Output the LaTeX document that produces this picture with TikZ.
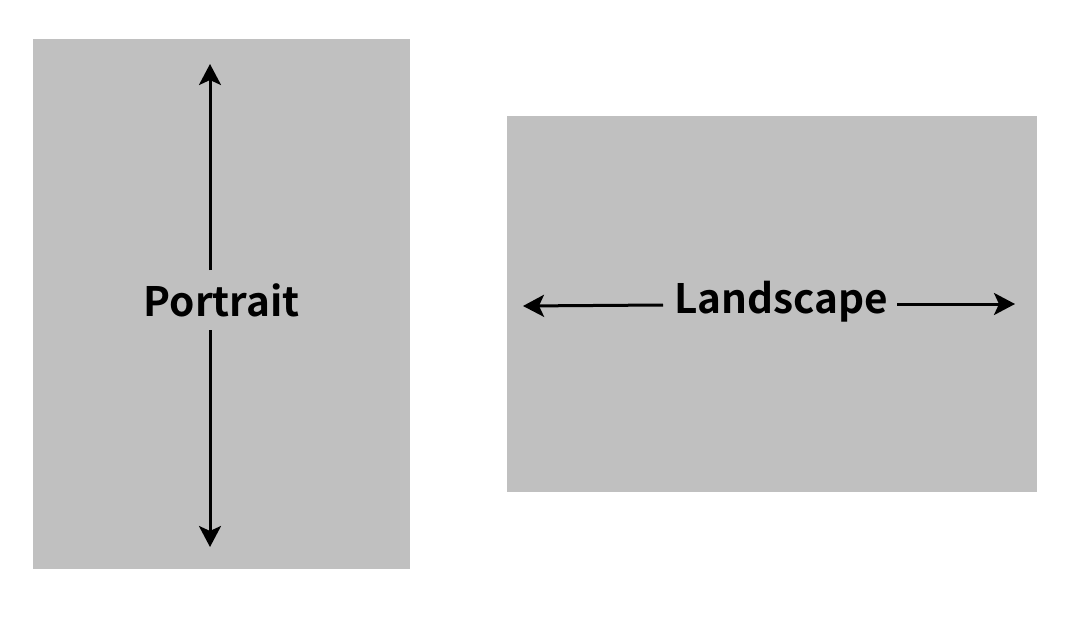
\documentclass[tikz,border=0pt]{standalone}
\usepackage{fontspec}
\setmainfont{Noto Sans}
\newfontfamily\lblfont{Noto Sans CJK SC}[BoldFont={Noto Sans CJK SC Bold}]
\usetikzlibrary{arrows.meta}
\definecolor{paper}{HTML}{C0C0C0}
\tikzset{
  sheet/.style={fill=paper, draw=none},
  lbl/.style={font=\lblfont\fontsize{40.5}{40.5}\selectfont\bfseries, text=black, inner sep=0pt},
  arr/.style={line width=3pt, -{Stealth[length=21pt,width=22pt,inset=5pt]}}
}
\begin{document}
\begin{tikzpicture}[x=1pt,y=-1pt]
\useasboundingbox (0,0) rectangle (1080,618);
\fill[white] (0,0) rectangle (1080,618);
\fill[sheet] (33,39) rectangle (410,569);
\fill[sheet] (507,116) rectangle (1037,492);
\node[lbl] (ptext) at (221.5,300) {Portrait};
\node[lbl] (ltext) at (781,302) {Landscape};
\coordinate (pin1) at (210,270);
\coordinate (pin2) at (210,330);
\coordinate (ptop) at (210,64);
\coordinate (pbot) at (210,547);
\coordinate (lin1) at (663,305);
\coordinate (lin2) at (897,304);
\coordinate (lleft) at (523,306);
\coordinate (lright) at (1015,304);
\draw[arr] (pin1) -- (ptop);
\draw[arr] (pin2) -- (pbot);
\draw[arr] (lin1) -- (lleft);
\draw[arr] (lin2) -- (lright);
\end{tikzpicture}
\end{document}
